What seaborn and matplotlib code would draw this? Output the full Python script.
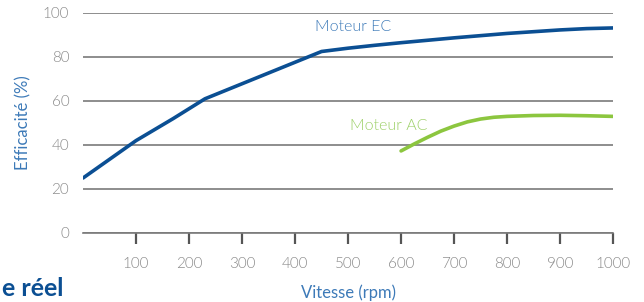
import pandas as pd
import matplotlib.pyplot as plt
import seaborn as sns

# données
vitesse_ec = [0, 100, 170, 230, 450, 500, 550, 600, 650, 700, 750, 800, 850, 900, 950, 1000]
eff_ec = [25, 42, 52, 61, 82.5, 84, 85.3, 86.5, 87.6, 88.7, 89.7, 90.7, 91.5, 92.3, 92.9, 93.2]
vitesse_ac = [600, 625, 650, 675, 700, 725, 750, 775, 800, 850, 900, 950, 1000]
eff_ac = [37.3, 40.5, 43.5, 46.3, 48.6, 50.5, 51.8, 52.6, 53.0, 53.4, 53.5, 53.3, 53.0]
x_ticks = [100, 200, 300, 400, 500, 600, 700, 800, 900, 1000]
y_ticks = [0, 20, 40, 60, 80, 100]

df_ec = pd.DataFrame({'Vitesse': vitesse_ec, 'Efficacite': eff_ec})
df_ac = pd.DataFrame({'Vitesse': vitesse_ac, 'Efficacite': eff_ac})

sns.set_style("white")
plt.rcParams['font.family'] = ['Lato', 'DejaVu Sans']
plt.rcParams['font.weight'] = 300

fig = plt.figure(figsize=(6.44, 3.02), dpi=100)
ax = fig.add_axes([0.129, 0.2285, 0.823, 0.7285])

bleu = '#0b4f93'
vert = '#8cc63f'
gris = '#7a7a7a'

sns.lineplot(data=df_ec, x='Vitesse', y='Efficacite', color=bleu, linewidth=2.6, ax=ax)
sns.lineplot(data=df_ac, x='Vitesse', y='Efficacite', color=vert, linewidth=2.6, ax=ax)

ax.set_xlim(0, 1000)
ax.set_ylim(0, 100)
ax.set_xticks(x_ticks)
ax.set_yticks(y_ticks)
ax.yaxis.grid(True, color=gris, linewidth=1.2)
ax.set_axisbelow(True)
for s in ['top', 'right', 'left']:
    ax.spines[s].set_visible(False)
ax.spines['bottom'].set_color(gris)
ax.spines['bottom'].set_linewidth(1.2)

ax.tick_params(axis='x', direction='out', length=8, width=1.6, color='#555555',
               pad=9, labelsize=11, labelcolor='#8a8a8a', bottom=True)
ax.tick_params(axis='y', length=0, pad=10, labelsize=11, labelcolor='#8a8a8a')

ax.set_xlabel('Vitesse (rpm)', color='#3d7ab8', fontsize=12, labelpad=10)
ax.set_ylabel('Efficacité (%)', color='#3d7ab8', fontsize=12, labelpad=8)

ax.text(438, 93.5, 'Moteur EC', color='#3d7ab8', fontsize=11.5, va='center')
ax.text(504, 48.5, 'Moteur AC', color='#9dd068', fontsize=11.5, va='center')

# titre de la section suivante, en bas à gauche
fig.text(0.003, 0.005, 'e réel', color='#0b4f93', fontsize=18, fontweight='bold', va='bottom')

fig.savefig('out.png', dpi=100)
